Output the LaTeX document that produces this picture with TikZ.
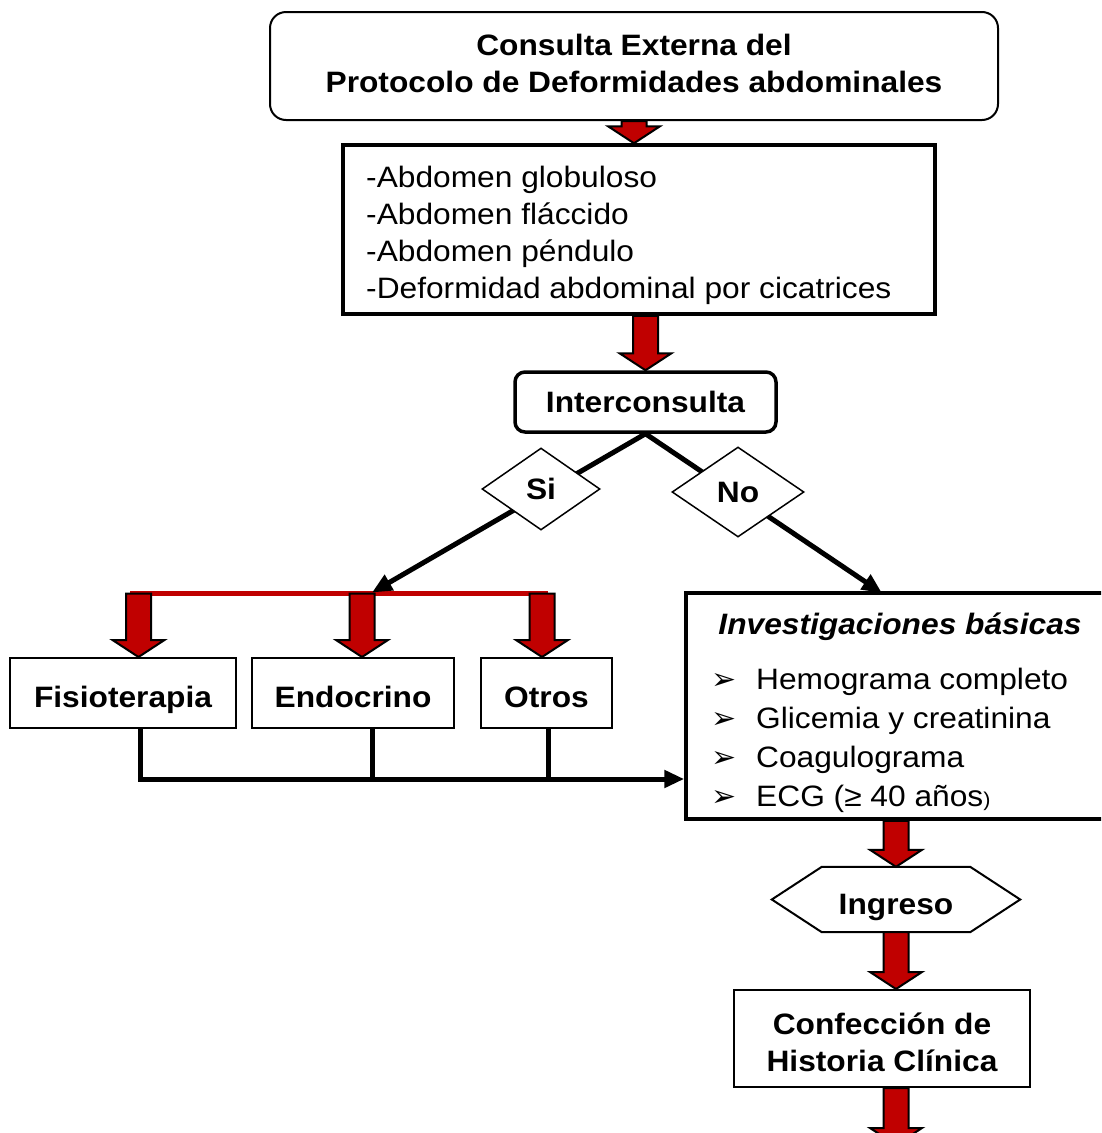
\documentclass[tikz,border=0pt]{standalone}
\usepackage{fontspec}
\setmainfont{Liberation Sans}[FakeStretch=1.075]
\newfontfamily\dejavu{DejaVu Sans}
\usetikzlibrary{calc,shapes.geometric,arrows.meta}
\definecolor{dred}{RGB}{192,0,0}
\newcommand{\fsz}{\fontsize{29.5}{37}\selectfont}
\newcommand{\bul}{\makebox[45pt][l]{\dejavu\fontsize{30}{30}\selectfont ➢}}
\newcommand{\blockarr}[2]{%
  \draw[barr] let \p1=#1, \p2=#2 in
    (\x1-12.5pt,\y1) -- (\x1+12.5pt,\y1) -- (\x1+12.5pt,\y2+17pt) --
    (\x1+26pt,\y2+17pt) -- (\x1,\y2) -- (\x1-26pt,\y2+17pt) --
    (\x1-12.5pt,\y2+17pt) -- cycle;}
\tikzset{
  barr/.style={fill=dred,draw=black,line width=2pt,line join=miter},
  every node/.style={font=\fsz},
  thinbox/.style={draw,line width=2pt,fill=white,inner sep=0pt},
  thickbox/.style={draw,line width=3.5pt,fill=white,inner sep=0pt},
  lowtext/.style={text height=29.5pt,text depth=0pt},
  conn/.style={line width=5pt,line join=miter,-{Triangle[length=20pt,width=17pt]}},
  plain/.style={line width=5pt},
  dia/.style={diamond,draw,line width=1.5pt,fill=white,inner sep=0pt,font=\fsz\bfseries}
}
\begin{document}
\begin{tikzpicture}[x=1pt,y=-1pt]
\useasboundingbox (0,0) rectangle (1101,1133);
\clip (0,0) rectangle (1101,1133);
\fill[white] (0,0) rectangle (1101,1133);

% boxes
\node[thinbox,rounded corners=16pt,minimum width=728pt,minimum height=108pt] (top) at (634,66) {};
\node[inner sep=0pt,align=center,font=\fsz\bfseries] (topt) at (634,63)
  {Consulta Externa del\\Protocolo de Deformidades abdominales};
\node[thickbox,minimum width=592pt,minimum height=169pt] (box2) at (639,229.5) {};
\node[inner sep=0pt,anchor=west,align=left] (box2t) at (366,235)
  {-Abdomen globuloso\\-Abdomen fláccido\\-Abdomen péndulo\\-Deformidad abdominal por cicatrices};
\node[thickbox,rounded corners=10pt,minimum width=261pt,minimum height=60pt,font=\fsz\bfseries]
  (inter) at (645.5,402) {Interconsulta};

\node[thinbox,lowtext,minimum width=226pt,minimum height=70pt,font=\fsz\bfseries] (fisio) at (123,693) {Fisioterapia};
\node[thinbox,lowtext,minimum width=202pt,minimum height=70pt,font=\fsz\bfseries] (endo) at (353,693) {Endocrino};
\node[thinbox,lowtext,minimum width=131pt,minimum height=70pt,font=\fsz\bfseries] (otros) at (546.5,693) {Otros};

\node[thickbox,minimum width=418pt,minimum height=226pt] (inv) at (895,706) {};
\node[inner sep=0pt,font=\fsz\bfseries\itshape] (invt) at (900,627) {Investigaciones básicas};
\node[inner sep=0pt,anchor=west,align=left,font=\fontsize{29.5}{39}\selectfont] (invl) at (711,740)
  {\bul Hemograma completo\\\bul Glicemia y creatinina\\\bul Coagulograma\\\bul ECG (≥ 40 años{\fontsize{20}{20}\selectfont)}};

\node[inner sep=0pt,lowtext,minimum width=248pt,minimum height=65pt,font=\fsz\bfseries] (ingreso) at (896,899.5) {Ingreso};
\draw[line width=2pt,line join=miter] (ingreso.west) -- ([xshift=50pt]ingreso.north west) -- ([xshift=-50pt]ingreso.north east)
  -- (ingreso.east) -- ([xshift=-50pt]ingreso.south east) -- ([xshift=50pt]ingreso.south west) -- cycle;

\node[thinbox,minimum width=296pt,minimum height=97pt] (conf) at (882,1038.5) {};
\node[inner sep=0pt,align=center,font=\fsz\bfseries] (conft) at (882,1042.5) {Confección de\\Historia Clínica};

% coordinates
\coordinate (rl) at (130,593.5);
\coordinate (rr) at (548,593.5);
\coordinate (r1) at (138.5,593.5);
\coordinate (r2) at (362,593.5);
\coordinate (r3) at (542,593.5);
\coordinate (invin) at (882,593);
\coordinate (b1) at (140,779);
\coordinate (b2) at (372,779);
\coordinate (b3) at (548,779);
\coordinate (bend) at (896,1145);

% block arrows
\blockarr{(top.south)}{(box2.north)}
\blockarr{(box2.south -| inter.north)}{(inter.north)}
\draw[dred,line width=5pt] (rl) -- (rr);
\blockarr{(r1)}{(r1 |- fisio.north)}
\blockarr{(r2)}{(r2 |- endo.north)}
\blockarr{(r3)}{(r3 |- otros.north)}
\blockarr{(inv.south -| ingreso)}{(ingreso.north)}
\blockarr{(ingreso.south)}{(conf.north)}
\blockarr{(conf.south -| ingreso)}{(bend)}

% diagonal connectors
\draw[conn] (inter.south) -- ([yshift=1pt]r2 -| 372,0);
\draw[conn] (inter.south) -- (invin);
\node[dia,minimum width=118pt,minimum height=82pt] (si) at (541,489) {Si};
\node[dia,minimum width=132pt,minimum height=90pt] (no) at (738,492) {No};

% bottom connectors
\draw[plain] (endo.south -| b2) -- (b2);
\draw[plain] (otros.south -| b3) -- (b3);
\draw[conn] (fisio.south -| b1) -- (b1) -- (inv.west |- b1);
\end{tikzpicture}
\end{document}
